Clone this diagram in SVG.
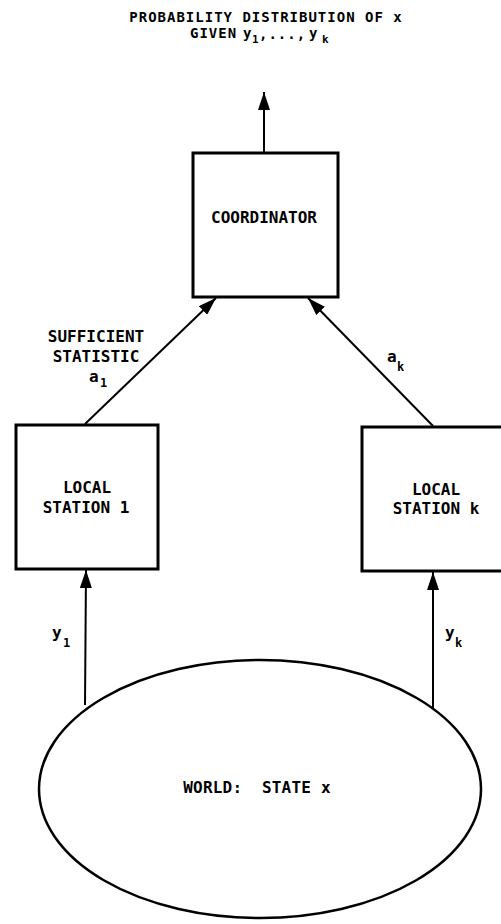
<svg xmlns="http://www.w3.org/2000/svg" width="501" height="924" viewBox="0 0 501 924">
<style>
.box{fill:#fff;stroke:#000;stroke-width:3}
.conn{stroke:#000;stroke-width:2;fill:none}
.t{font-family:"DejaVu Sans Mono","Liberation Mono",monospace;font-weight:bold;font-size:16px;fill:#000}
.m{text-anchor:middle}
.s{font-size:12px;letter-spacing:0}
.ti{font-size:14px;letter-spacing:1px}
</style>
<defs>
<marker id="ah" markerUnits="userSpaceOnUse" markerWidth="18" markerHeight="12" refX="18" refY="6" orient="auto">
<path d="M0,0 L18,6 L0,12 z" fill="#000"/>
</marker>
</defs>
<g id="title">
<text class="t m ti" x="266" y="22">PROBABILITY DISTRIBUTION OF x</text>
<text class="t ti"><tspan x="190" y="38">GIVEN</tspan><tspan x="243" y="38">y</tspan><tspan class="s" x="252" y="43" style="font-size:11px">1</tspan><tspan x="259" y="39">,...,</tspan><tspan x="309" y="38">y</tspan><tspan class="s" x="322" y="43" style="font-size:11px">k</tspan></text>
</g>
<g id="coordinator">
<rect class="box" x="193" y="153" width="145" height="144"/>
<text class="t m" x="264" y="223">COORDINATOR</text>
</g>
<g id="station1">
<rect class="box" x="16" y="425" width="142" height="144"/>
<text class="t m" x="87" y="493">LOCAL</text>
<text class="t m" x="86" y="513">STATION 1</text>
</g>
<g id="stationk">
<rect class="box" x="362" y="427" width="142" height="144"/>
<text class="t m" x="436" y="495">LOCAL</text>
<text class="t m" x="436" y="514">STATION k</text>
</g>
<g id="world">
<ellipse cx="260" cy="789" rx="221" ry="129" fill="#fff" stroke="#000" stroke-width="2.5"/>
<text class="t m" x="257" y="793" style="letter-spacing:0.2px">WORLD:&#160; STATE x</text>
</g>
<g id="connectors">
<line class="conn" x1="264" y1="153" x2="264" y2="92" marker-end="url(#ah)"/>
<line class="conn" x1="85" y1="424" x2="216" y2="298" marker-end="url(#ah)"/>
<line class="conn" x1="433" y1="426" x2="308" y2="298" marker-end="url(#ah)"/>
<line class="conn" x1="85" y1="705" x2="86" y2="570" marker-end="url(#ah)"/>
<line class="conn" x1="433" y1="708" x2="433" y2="572" marker-end="url(#ah)"/>
</g>
<g id="labels">
<text class="t m" x="96" y="342">SUFFICIENT</text>
<text class="t m" x="96" y="362">STATISTIC</text>
<text class="t"><tspan x="89" y="382">a</tspan><tspan class="s" x="100" y="387">1</tspan></text>
<text class="t"><tspan x="387" y="362">a</tspan><tspan class="s" x="397" y="371">k</tspan></text>
<text class="t"><tspan x="52" y="638">y</tspan><tspan class="s" x="63" y="647">1</tspan></text>
<text class="t"><tspan x="445" y="638">y</tspan><tspan class="s" x="455" y="647">k</tspan></text>
</g>
</svg>
